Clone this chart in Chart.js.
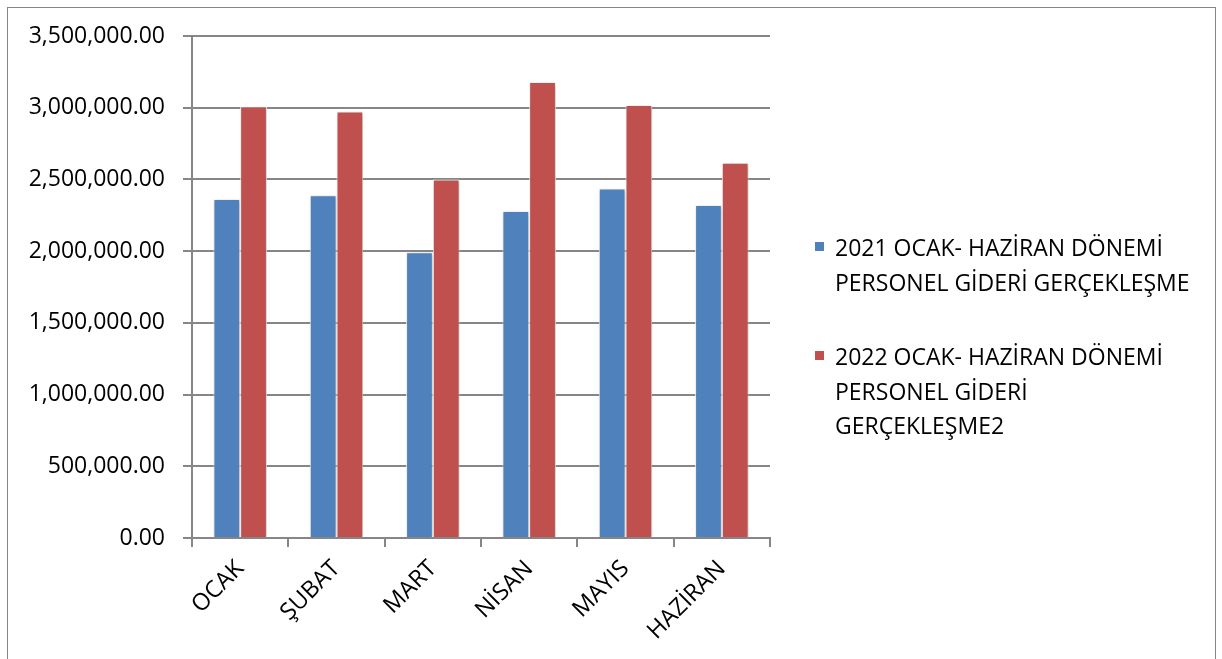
<!DOCTYPE html>
<html>
<head>
<meta charset="utf-8">
<script src="https://cdn.jsdelivr.net/npm/chart.js@4.4.0/dist/chart.umd.min.js"></script>
<style>
  html, body { margin: 0; padding: 0; background: #fff; }
  #wrap { position: relative; width: 1222px; height: 659px; overflow: hidden; }
  #frame { position: absolute; left: 7px; top: 7px; width: 1209px; height: 670px; border: 1px solid #868686; box-sizing: border-box; }
  #chart { position: absolute; left: 0; top: 0; }
  #legend { position: absolute; left: 815px; top: 230px; font-family: "Open Sans", sans-serif; font-size: 23px; color: #000; }
  .item { position: relative; padding-left: 20px; line-height: 34.5px; margin-bottom: 40px; }
  .box { position: absolute; left: 0; top: 12px; width: 9px; height: 9px; }
</style>
</head>
<body>
<div id="wrap">
  <div id="frame"></div>
  <canvas id="chart" width="1222" height="659"></canvas>
  <div id="legend"></div>
</div>
<script>
const categories = ['OCAK', 'ŞUBAT', 'MART', 'NİSAN', 'MAYIS', 'HAZİRAN'];
const gider2021 = [2364000, 2389000, 1993000, 2280000, 2436000, 2322000];
const gider2022 = [3008000, 2973000, 2499000, 3180000, 3019000, 2616000];
const legend2021 = ['2021 OCAK- HAZİRAN DÖNEMİ', 'PERSONEL GİDERİ GERÇEKLEŞME'];
const legend2022 = ['2022 OCAK- HAZİRAN DÖNEMİ', 'PERSONEL GİDERİ', 'GERÇEKLEŞME2'];

const blue = '#4F81BD';
const red = '#C0504D';
const gridGray = '#868686';
const fontFamily = '"Open Sans", sans-serif';

// soft shadow behind bars, like the office chart
const barShadow = {
    id: 'barShadow',
    beforeDatasetsDraw(chart) {
        const ctx = chart.ctx;
        ctx.save();
        ctx.shadowColor = 'rgba(0,0,0,0.28)';
        ctx.shadowBlur = 4;
        ctx.shadowOffsetX = 1;
        ctx.shadowOffsetY = 1;
    },
    afterDatasetsDraw(chart) {
        chart.ctx.restore();
    }
};

const chart = new Chart(document.getElementById('chart'), {
    type: 'bar',
    data: {
        labels: categories,
        datasets: [
            { label: legend2021.join(' '), data: gider2021, backgroundColor: blue, borderColor: '#fff', borderWidth: 1 },
            { label: legend2022.join(' '), data: gider2022, backgroundColor: red, borderColor: '#fff', borderWidth: 1 }
        ]
    },
    options: {
        responsive: false,
        animation: false,
        barPercentage: 1,
        categoryPercentage: 0.555,
        layout: { padding: { left: 0, right: 452, top: 36, bottom: 0 } },
        plugins: { legend: { display: false }, tooltip: { enabled: false } },
        scales: {
            x: {
                afterFit: s => { s.height = 121; },
                grid: { drawOnChartArea: false, drawTicks: true, tickLength: 9, color: gridGray, lineWidth: 2 },
                border: { color: gridGray, width: 2 },
                ticks: { minRotation: 45, maxRotation: 45, padding: 8, color: '#000', font: { family: fontFamily, size: 23.5 } }
            },
            y: {
                min: 0, max: 3500000,
                afterFit: s => { s.width = 192; },
                grid: { color: gridGray, lineWidth: 2, tickLength: 9 },
                border: { color: gridGray, width: 2 },
                ticks: {
                    stepSize: 500000, padding: 18, color: '#000',
                    font: { family: fontFamily, size: 23 },
                    callback: v => v.toLocaleString('en-US', { minimumFractionDigits: 2, maximumFractionDigits: 2 })
                }
            }
        }
    },
    plugins: [barShadow]
});

// legend built from the label lines
const legendEl = document.getElementById('legend');
[[legend2021, blue], [legend2022, red]].forEach(([lines, color]) => {
    const item = document.createElement('div');
    item.className = 'item';
    item.innerHTML = `<span class="box" style="background:${color}"></span>` + lines.join('<br>');
    legendEl.appendChild(item);
});
</script>
</body>
</html>
